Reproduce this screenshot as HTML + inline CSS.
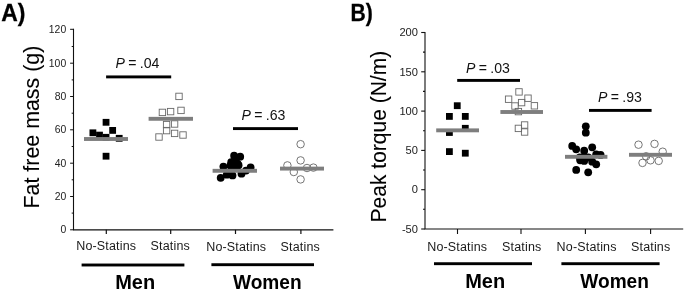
<!DOCTYPE html>
<html><head><meta charset="utf-8"><title>Figure</title>
<style>
html,body{margin:0;padding:0;background:#fff;}
body{width:685px;height:291px;overflow:hidden;font-family:"Liberation Sans",sans-serif;}
svg{display:block;position:absolute;left:0;top:0;will-change:transform;}
text{font-family:"Liberation Sans",sans-serif;}
.tl{font-size:10.4px;fill:#222;text-anchor:end;}
.cat{font-size:12.5px;fill:#1a1a1a;letter-spacing:0.17px;}
.grp{font-size:19.5px;font-weight:bold;fill:#000;}
.pan{font-size:23.3px;font-weight:bold;fill:#000;stroke:#000;stroke-width:0.3px;}
.pv{font-size:14.1px;fill:#111;word-spacing:-0.6px;}
.yl{font-size:21.4px;fill:#000;stroke:#000;stroke-width:0.08px;}
</style></head><body>
<svg width="685" height="291" viewBox="0 0 685 291">
<rect width="685" height="291" fill="#fff"/>

<text class="pan" x="1.3" y="20.9" textLength="24.2" lengthAdjust="spacingAndGlyphs">A)</text>
<path d="M73.5 28.7 V229.85 H333.4" fill="none" stroke="#111" stroke-width="1.1"/>
<path d="M70.1 229.8 H73.5" stroke="#111" stroke-width="1"/>
<text class="tl" x="66.2" y="233.4">0</text>
<path d="M70.1 196.5 H73.5" stroke="#111" stroke-width="1"/>
<text class="tl" x="66.2" y="200.1">20</text>
<path d="M70.1 163.2 H73.5" stroke="#111" stroke-width="1"/>
<text class="tl" x="66.2" y="166.8">40</text>
<path d="M70.1 129.8 H73.5" stroke="#111" stroke-width="1"/>
<text class="tl" x="66.2" y="133.4">60</text>
<path d="M70.1 96.5 H73.5" stroke="#111" stroke-width="1"/>
<text class="tl" x="66.2" y="100.1">80</text>
<path d="M70.1 63.2 H73.5" stroke="#111" stroke-width="1"/>
<text class="tl" x="66.2" y="66.8">100</text>
<path d="M70.1 29.3 H73.5" stroke="#111" stroke-width="1"/>
<text class="tl" x="66.2" y="32.9">120</text>
<path d="M71.7 213.1 H73.5" stroke="#111" stroke-width="1"/>
<path d="M71.7 179.8 H73.5" stroke="#111" stroke-width="1"/>
<path d="M71.7 146.5 H73.5" stroke="#111" stroke-width="1"/>
<path d="M71.7 113.2 H73.5" stroke="#111" stroke-width="1"/>
<path d="M71.7 79.9 H73.5" stroke="#111" stroke-width="1"/>
<path d="M71.7 46.5 H73.5" stroke="#111" stroke-width="1"/>
<path d="M106.3 229.85 V234" stroke="#111" stroke-width="1.2"/>
<path d="M170.70000000000002 229.85 V234" stroke="#111" stroke-width="1.2"/>
<path d="M235.5 229.85 V234" stroke="#111" stroke-width="1.2"/>
<path d="M300.90000000000003 229.85 V234" stroke="#111" stroke-width="1.2"/>
<text class="yl" transform="translate(39,208.5) rotate(-90)">Fat free mass (g)</text>
<rect x="102.65" y="118.90" width="6.8" height="6.8" fill="#000"/>
<rect x="109.25" y="127.00" width="6.8" height="6.8" fill="#000"/>
<rect x="89.50" y="129.40" width="6.8" height="6.8" fill="#000"/>
<rect x="96.10" y="131.70" width="6.8" height="6.8" fill="#000"/>
<rect x="102.65" y="133.90" width="6.8" height="6.8" fill="#000"/>
<rect x="115.80" y="134.90" width="6.8" height="6.8" fill="#000"/>
<rect x="102.65" y="152.80" width="6.8" height="6.8" fill="#000"/>
<rect x="84.0" y="137.05" width="44.0" height="3.9" fill="#7e7e7e"/>
<rect x="175.80" y="93.20" width="6.4" height="6.4" fill="none" stroke="#686868" stroke-width="0.9"/>
<rect x="159.20" y="109.20" width="6.4" height="6.4" fill="none" stroke="#686868" stroke-width="0.9"/>
<rect x="167.40" y="108.40" width="6.4" height="6.4" fill="none" stroke="#686868" stroke-width="0.9"/>
<rect x="177.80" y="107.20" width="6.4" height="6.4" fill="none" stroke="#686868" stroke-width="0.9"/>
<rect x="163.40" y="121.40" width="6.4" height="6.4" fill="none" stroke="#686868" stroke-width="0.9"/>
<rect x="171.40" y="120.80" width="6.4" height="6.4" fill="none" stroke="#686868" stroke-width="0.9"/>
<rect x="163.40" y="127.40" width="6.4" height="6.4" fill="none" stroke="#686868" stroke-width="0.9"/>
<rect x="171.40" y="130.20" width="6.4" height="6.4" fill="none" stroke="#686868" stroke-width="0.9"/>
<rect x="179.80" y="131.80" width="6.4" height="6.4" fill="none" stroke="#686868" stroke-width="0.9"/>
<rect x="155.80" y="133.80" width="6.4" height="6.4" fill="none" stroke="#686868" stroke-width="0.9"/>
<rect x="148.6" y="116.85" width="44.4" height="3.9" fill="#7e7e7e"/>
<circle cx="234.10" cy="155.70" r="3.9" fill="#000"/>
<circle cx="240.20" cy="156.70" r="3.9" fill="#000"/>
<circle cx="231.20" cy="162.20" r="3.9" fill="#000"/>
<circle cx="237.60" cy="163.60" r="3.9" fill="#000"/>
<circle cx="235.40" cy="160.20" r="3.9" fill="#000"/>
<circle cx="223.40" cy="166.60" r="3.9" fill="#000"/>
<circle cx="230.30" cy="165.60" r="3.9" fill="#000"/>
<circle cx="234.60" cy="165.60" r="3.9" fill="#000"/>
<circle cx="238.60" cy="165.20" r="3.9" fill="#000"/>
<circle cx="250.60" cy="167.50" r="3.9" fill="#000"/>
<circle cx="246.00" cy="170.60" r="3.9" fill="#000"/>
<circle cx="241.50" cy="173.70" r="3.9" fill="#000"/>
<circle cx="232.50" cy="175.40" r="3.9" fill="#000"/>
<circle cx="226.80" cy="174.70" r="3.9" fill="#000"/>
<circle cx="220.70" cy="177.80" r="3.9" fill="#000"/>
<rect x="212.6" y="168.85" width="44.4" height="3.9" fill="#7e7e7e"/>
<circle cx="300.60" cy="144.20" r="3.75" fill="none" stroke="#686868" stroke-width="0.9"/>
<circle cx="300.60" cy="160.40" r="3.75" fill="none" stroke="#686868" stroke-width="0.9"/>
<circle cx="287.40" cy="165.40" r="3.75" fill="none" stroke="#686868" stroke-width="0.9"/>
<circle cx="307.00" cy="168.00" r="3.75" fill="none" stroke="#686868" stroke-width="0.9"/>
<circle cx="313.40" cy="167.60" r="3.75" fill="none" stroke="#686868" stroke-width="0.9"/>
<circle cx="293.80" cy="172.00" r="3.75" fill="none" stroke="#686868" stroke-width="0.9"/>
<circle cx="300.60" cy="179.40" r="3.75" fill="none" stroke="#686868" stroke-width="0.9"/>
<rect x="280.0" y="166.65" width="44.0" height="3.9" fill="#7e7e7e"/>
<rect x="106.1" y="75.45" width="65.1" height="2.9" fill="#000"/>
<text class="pv" x="115.6" y="67.9"><tspan font-style="italic">P</tspan> = .04</text>
<rect x="233.0" y="127.15" width="65.0" height="2.9" fill="#000"/>
<text class="pv" x="241.6" y="119.9"><tspan font-style="italic">P</tspan> = .63</text>
<text class="cat" x="76.2" y="249.7">No-Statins</text>
<text class="cat" x="150.6" y="249.7">Statins</text>
<text class="cat" x="206.2" y="250.6">No-Statins</text>
<text class="cat" x="280.6" y="250.6">Statins</text>
<rect x="81.6" y="263.55" width="102.8" height="2.9" fill="#000"/>
<rect x="211.4" y="263.25" width="102.6" height="2.9" fill="#000"/>
<text class="grp" x="115.2" y="289" textLength="40" lengthAdjust="spacingAndGlyphs">Men</text>
<text class="grp" x="233" y="289" textLength="68.6" lengthAdjust="spacingAndGlyphs">Women</text>
<text class="pan" x="350.6" y="20.9" textLength="22.3" lengthAdjust="spacingAndGlyphs">B)</text>
<path d="M425.0 32 V229 H683.2" fill="none" stroke="#111" stroke-width="1.1"/>
<path d="M421.2 229.0 H425.0" stroke="#111" stroke-width="1.1"/>
<text class="tl" transform="translate(418,232.7) scale(1.07,1)" x="0" y="0">-50</text>
<path d="M421.2 189.7 H425.0" stroke="#111" stroke-width="1.1"/>
<text class="tl" transform="translate(418,193.4) scale(1.07,1)" x="0" y="0">0</text>
<path d="M421.2 150.4 H425.0" stroke="#111" stroke-width="1.1"/>
<text class="tl" transform="translate(418,154.1) scale(1.07,1)" x="0" y="0">50</text>
<path d="M421.2 111.1 H425.0" stroke="#111" stroke-width="1.1"/>
<text class="tl" transform="translate(418,114.8) scale(1.07,1)" x="0" y="0">100</text>
<path d="M421.2 71.8 H425.0" stroke="#111" stroke-width="1.1"/>
<text class="tl" transform="translate(418,75.5) scale(1.07,1)" x="0" y="0">150</text>
<path d="M421.2 32.5 H425.0" stroke="#111" stroke-width="1.1"/>
<text class="tl" transform="translate(418,36.2) scale(1.07,1)" x="0" y="0">200</text>
<path d="M423.0 209.3 H425.0" stroke="#111" stroke-width="1.1"/>
<path d="M423.0 170.0 H425.0" stroke="#111" stroke-width="1.1"/>
<path d="M423.0 130.8 H425.0" stroke="#111" stroke-width="1.1"/>
<path d="M423.0 91.4 H425.0" stroke="#111" stroke-width="1.1"/>
<path d="M423.0 52.1 H425.0" stroke="#111" stroke-width="1.1"/>
<path d="M457.5 229 V234" stroke="#111" stroke-width="1.1"/>
<path d="M521 229 V234" stroke="#111" stroke-width="1.1"/>
<path d="M585.4 229 V234" stroke="#111" stroke-width="1.1"/>
<path d="M650.6 229 V234" stroke="#111" stroke-width="1.1"/>
<text class="yl" transform="translate(386.4,222.4) rotate(-90)" textLength="171.6" lengthAdjust="spacingAndGlyphs">Peak torque (N/m)</text>
<rect x="453.85" y="102.30" width="6.8" height="6.8" fill="#000"/>
<rect x="446.00" y="113.00" width="6.8" height="6.8" fill="#000"/>
<rect x="461.90" y="113.00" width="6.8" height="6.8" fill="#000"/>
<rect x="461.90" y="124.90" width="6.8" height="6.8" fill="#000"/>
<rect x="446.00" y="129.10" width="6.8" height="6.8" fill="#000"/>
<rect x="446.00" y="148.20" width="6.8" height="6.8" fill="#000"/>
<rect x="461.90" y="149.80" width="6.8" height="6.8" fill="#000"/>
<rect x="436.2" y="128.40" width="42.8" height="3.9" fill="#7e7e7e"/>
<rect x="515.80" y="88.70" width="6.4" height="6.4" fill="none" stroke="#686868" stroke-width="0.9"/>
<rect x="505.40" y="96.00" width="6.4" height="6.4" fill="none" stroke="#686868" stroke-width="0.9"/>
<rect x="524.80" y="95.00" width="6.4" height="6.4" fill="none" stroke="#686868" stroke-width="0.9"/>
<rect x="518.40" y="99.40" width="6.4" height="6.4" fill="none" stroke="#686868" stroke-width="0.9"/>
<rect x="511.80" y="102.80" width="6.4" height="6.4" fill="none" stroke="#686868" stroke-width="0.9"/>
<rect x="531.20" y="102.60" width="6.4" height="6.4" fill="none" stroke="#686868" stroke-width="0.9"/>
<rect x="515.20" y="108.40" width="6.4" height="6.4" fill="none" stroke="#686868" stroke-width="0.9"/>
<rect x="521.40" y="121.80" width="6.4" height="6.4" fill="none" stroke="#686868" stroke-width="0.9"/>
<rect x="515.20" y="125.20" width="6.4" height="6.4" fill="none" stroke="#686868" stroke-width="0.9"/>
<rect x="521.40" y="128.80" width="6.4" height="6.4" fill="none" stroke="#686868" stroke-width="0.9"/>
<rect x="500.4" y="110.05" width="42.6" height="3.9" fill="#7e7e7e"/>
<circle cx="585.80" cy="126.30" r="3.9" fill="#000"/>
<circle cx="585.80" cy="132.70" r="3.9" fill="#000"/>
<circle cx="572.20" cy="145.90" r="3.9" fill="#000"/>
<circle cx="576.20" cy="149.30" r="3.9" fill="#000"/>
<circle cx="592.20" cy="147.30" r="3.9" fill="#000"/>
<circle cx="584.20" cy="150.70" r="3.9" fill="#000"/>
<circle cx="596.20" cy="154.30" r="3.9" fill="#000"/>
<circle cx="600.60" cy="154.90" r="3.9" fill="#000"/>
<circle cx="579.80" cy="157.30" r="3.9" fill="#000"/>
<circle cx="583.80" cy="157.30" r="3.9" fill="#000"/>
<circle cx="588.20" cy="157.30" r="3.9" fill="#000"/>
<circle cx="580.20" cy="160.30" r="3.9" fill="#000"/>
<circle cx="584.20" cy="160.90" r="3.9" fill="#000"/>
<circle cx="592.20" cy="161.70" r="3.9" fill="#000"/>
<circle cx="596.20" cy="164.30" r="3.9" fill="#000"/>
<circle cx="576.20" cy="169.90" r="3.9" fill="#000"/>
<circle cx="588.20" cy="172.30" r="3.9" fill="#000"/>
<rect x="565.0" y="154.85" width="42.4" height="3.9" fill="#7e7e7e"/>
<circle cx="638.50" cy="144.70" r="3.75" fill="none" stroke="#686868" stroke-width="0.9"/>
<circle cx="654.50" cy="143.90" r="3.75" fill="none" stroke="#686868" stroke-width="0.9"/>
<circle cx="662.70" cy="151.70" r="3.75" fill="none" stroke="#686868" stroke-width="0.9"/>
<circle cx="646.10" cy="156.30" r="3.75" fill="none" stroke="#686868" stroke-width="0.9"/>
<circle cx="650.50" cy="160.30" r="3.75" fill="none" stroke="#686868" stroke-width="0.9"/>
<circle cx="658.70" cy="160.90" r="3.75" fill="none" stroke="#686868" stroke-width="0.9"/>
<circle cx="642.50" cy="162.90" r="3.75" fill="none" stroke="#686868" stroke-width="0.9"/>
<rect x="629.0" y="152.85" width="43.0" height="3.9" fill="#7e7e7e"/>
<rect x="457.2" y="78.95" width="62.8" height="2.9" fill="#000"/>
<text class="pv" x="466" y="72.5"><tspan font-style="italic">P</tspan> = .03</text>
<rect x="589.0" y="108.95" width="62.6" height="2.9" fill="#000"/>
<text class="pv" x="598" y="102.4"><tspan font-style="italic">P</tspan> = .93</text>
<text class="cat" x="427.2" y="251.1">No-Statins</text>
<text class="cat" x="502.1" y="251.2">Statins</text>
<text class="cat" x="556.6" y="250.7">No-Statins</text>
<text class="cat" x="631" y="250.7">Statins</text>
<rect x="434.0" y="262.25" width="98.0" height="2.9" fill="#000"/>
<rect x="561.4" y="262.25" width="98.2" height="2.9" fill="#000"/>
<text class="grp" x="465.2" y="287.9" textLength="40" lengthAdjust="spacingAndGlyphs">Men</text>
<text class="grp" x="580.3" y="288" textLength="68.6" lengthAdjust="spacingAndGlyphs">Women</text>
</svg></body></html>
